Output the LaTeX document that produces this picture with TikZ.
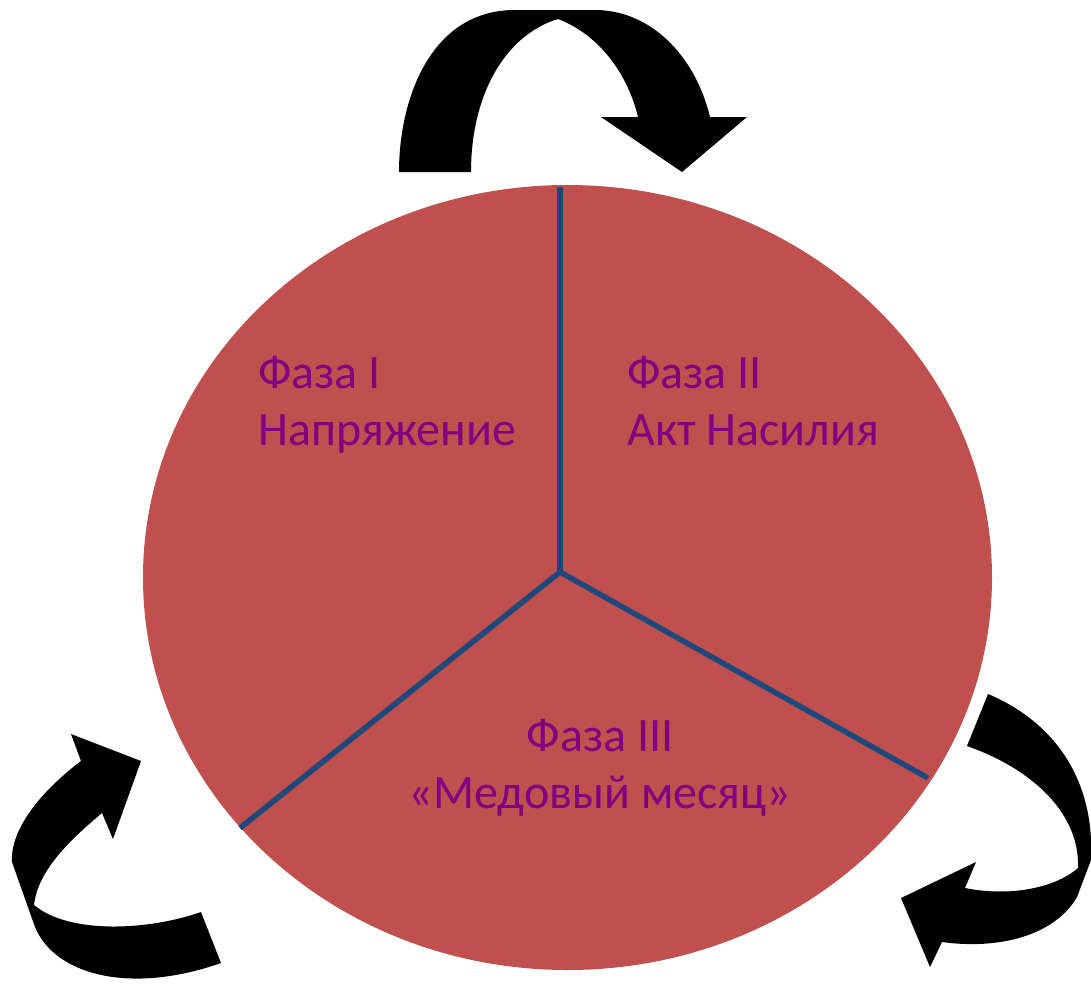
\documentclass[tikz,border=0pt]{standalone}
\usepackage{fontspec}
\setmainfont{Carlito}
\usepackage{tikz}
\definecolor{pieRed}{HTML}{C0504D}
\definecolor{pieBlue}{HTML}{1F497D}
\definecolor{phaseText}{HTML}{800080}

\begin{document}
\begin{tikzpicture}[x=1pt, y=-1pt,
    phase/.style={text=phaseText, inner sep=0pt, font=\fontsize{48}{57}\selectfont},
    divider/.style={draw=pieBlue, line width=5.5pt},
    turn/.style={fill=black}]
    \useasboundingbox (0,0) rectangle (1091,983);

    \fill[pieRed] (567.5,577.5) ellipse [x radius=424.5, y radius=392.5];

    \coordinate (hub) at (560,572);
    \coordinate (rimTop) at (560,187);
    \coordinate (rimLeft) at (240,828);
    \coordinate (rimRight) at (928,778);

        \draw[divider] (hub) -- (rimTop);
        \draw[divider] (hub) -- (rimLeft);
        \draw[divider] (hub) -- (rimRight);

        \node[phase, anchor=base west, align=left] (phaseI) at (258,445) {Фаза I\\Напряжение};
        \node[phase, anchor=base west, align=left] (phaseII) at (627,445) {Фаза II\\Акт Насилия};
        \node[phase, anchor=base, align=center] (phaseIII) at (600,808) {Фаза III\\«Медовый месяц»};

        % top
        \fill[turn] (399,172) .. controls (399,100) and (430,10) .. (515,10) -- (595,10)
            .. controls (650,10) and (695,55) .. (710,117) -- (747,117) -- (682,172)
            -- (601,117) -- (638,117) .. controls (628,75) and (600,35) .. (558,19)
            .. controls (505,35) and (471,95) .. (471,172) -- cycle;
        % bottom left
        \fill[turn] (81,761) .. controls (40,792) and (10,830) .. (12,862) -- (35,927)
            .. controls (55,975) and (130,995) .. (221,963) -- (201,912)
            .. controls (150,930) and (70,935) .. (34,905)
            .. controls (38,870) and (70,840) .. (102,813) -- (113,839) -- (141,761)
            -- (71,734) -- cycle;
        % bottom right
        \fill[turn] (988,694) .. controls (1050,720) and (1095,775) .. (1091,860) -- (1077,897)
            .. controls (1055,935) and (1000,950) .. (942,942) -- (930,967) -- (901,898)
            -- (976,862) -- (965,888) .. controls (1010,897) and (1055,888) .. (1078,868)
            .. controls (1080,815) and (1035,770) .. (967,746) -- cycle;

\end{tikzpicture}
\end{document}
